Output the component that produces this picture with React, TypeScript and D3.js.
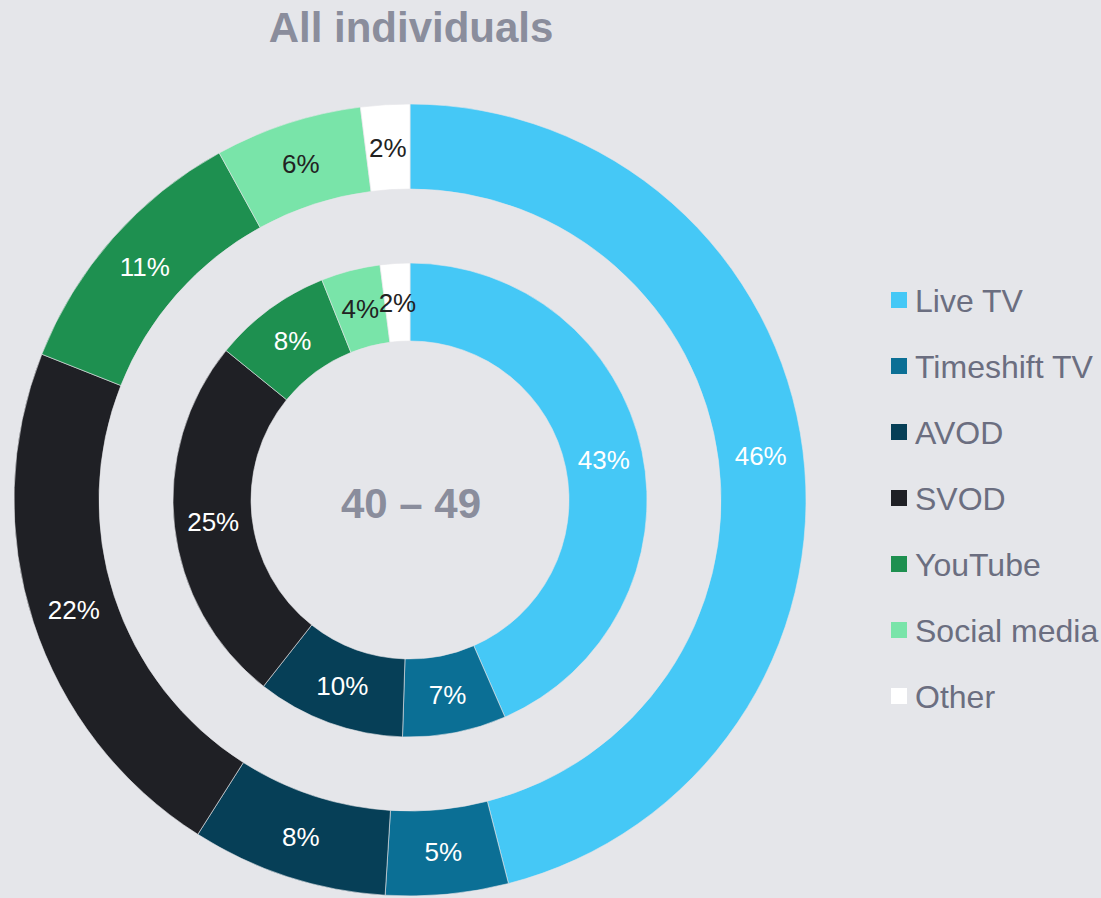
import React from "react";
import * as d3 from "d3";

const categories = ["Live TV", "Timeshift TV", "AVOD", "SVOD", "YouTube", "Social media", "Other"];
const outerValues = [46, 5, 8, 22, 11, 6, 2];
const innerValues = [43, 7, 10, 25, 8, 4, 2];
const colors = ["#45c8f6", "#0b6f95", "#063f57", "#1f2025", "#1e9050", "#79e4a9", "#ffffff"];
const labelColors = ["#ffffff", "#ffffff", "#ffffff", "#ffffff", "#ffffff", "#222222", "#222222"];
const title = "All individuals";
const centerLabel = "40 – 49";

const W = 1101;
const H = 898;
const cx = 410;
const cy = 500;
const font = "Liberation Sans, Arial, sans-serif";

function Ring({ values, r0, r1 }: { values: number[]; r0: number; r1: number }) {
  const pie = d3.pie<number>().sort(null).value((d) => d);
  const arcs = pie(values);
  const arc = d3.arc<d3.PieArcDatum<number>>().innerRadius(r0).outerRadius(r1);
  const labelArc = d3.arc<d3.PieArcDatum<number>>().innerRadius((r0 + r1) / 2).outerRadius((r0 + r1) / 2);
  return (
    <g>
      {arcs.map((a, i) => (
        <path key={"p" + i} d={arc(a) || ""} fill={colors[i]} stroke="#e5e6ea" strokeWidth={0.6} />
      ))}
      {arcs.map((a, i) => {
        const [x, y] = labelArc.centroid(a);
        return (
          <text
            key={"t" + i}
            x={x}
            y={y}
            dy="0.36em"
            textAnchor="middle"
            fontFamily={font}
            fontSize={26}
            fill={labelColors[i]}
          >
            {values[i] + "%"}
          </text>
        );
      })}
    </g>
  );
}

export default function App() {
  return (
    <svg
      width={W}
      height={H}
      style={{ position: "fixed", left: 0, top: 0, display: "block", background: "#e5e6ea" }}
    >
      <rect width={W} height={H} fill="#e5e6ea" />
      <text x={cx + 1} y={42} textAnchor="middle" fontFamily={font} fontWeight="bold" fontSize={42} fill="#8a8d9c">
        {title}
      </text>
      <g transform={`translate(${cx},${cy})`}>
        <Ring values={outerValues} r0={311} r1={396} />
        <Ring values={innerValues} r0={159} r1={237} />
        <text x={1} y={18} textAnchor="middle" fontFamily={font} fontWeight="bold" fontSize={42} fill="#8a8d9c">
          {centerLabel}
        </text>
      </g>
      <g>
        {categories.map((c, i) => {
          const y = 300 + i * 66;
          return (
            <g key={c}>
              <rect x={891} y={y - 8} width={16} height={16} fill={colors[i]} />
              <text x={915} y={y} dy="0.36em" fontFamily={font} fontSize={32} fill="#6b6e80">
                {c}
              </text>
            </g>
          );
        })}
      </g>
    </svg>
  );
}
